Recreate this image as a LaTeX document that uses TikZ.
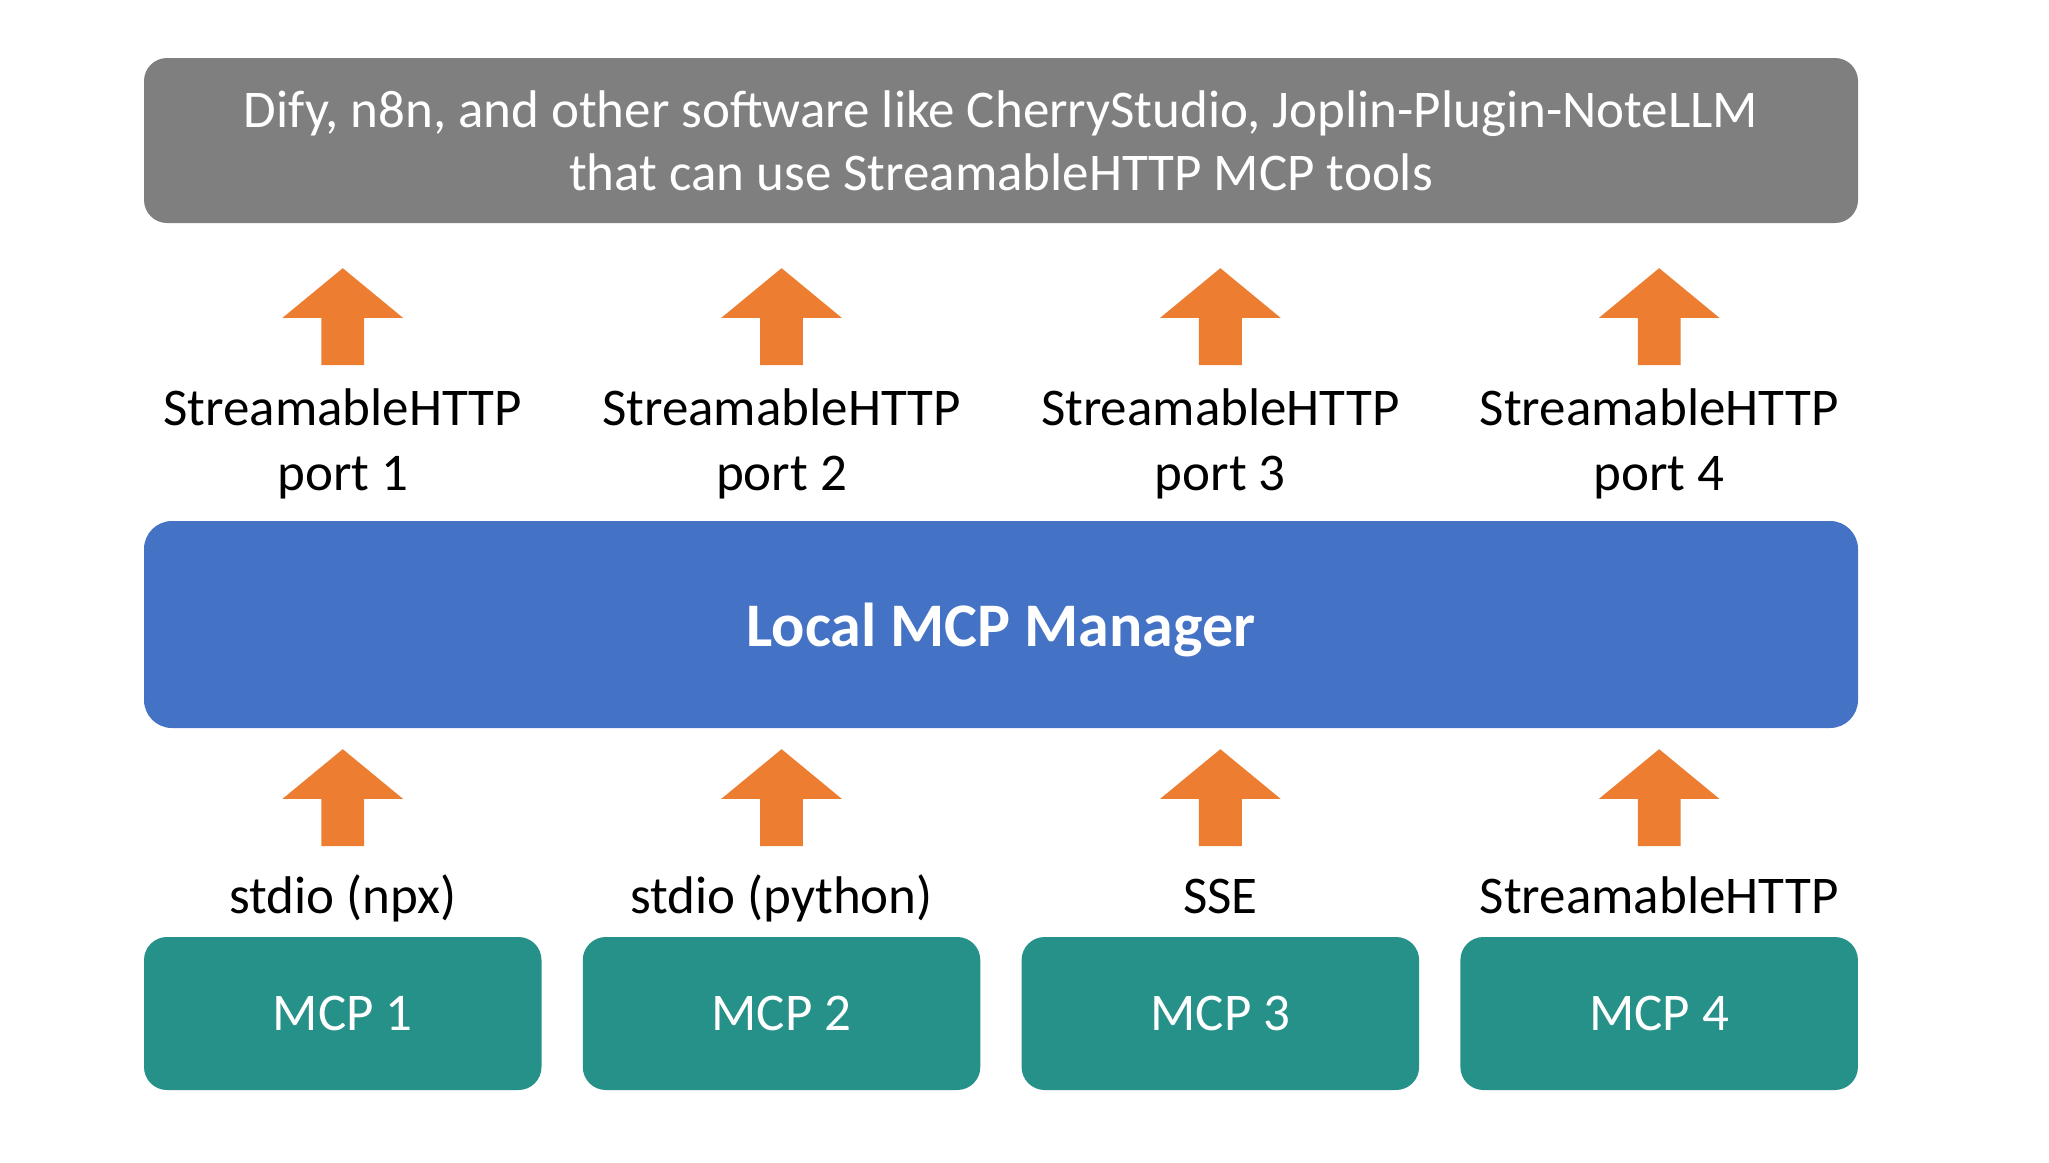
\documentclass[tikz,border=0pt]{standalone}
\usepackage{fontspec}
\setmainfont{Carlito}
\usetikzlibrary{positioning, shapes.arrows}

\definecolor{clientgray}{HTML}{7F7F7F}
\definecolor{managerblue}{HTML}{4472C4}
\definecolor{flowarrow}{HTML}{ED7D31}
\definecolor{mcpteal}{RGB}{37,145,136}

\begin{document}
\begin{tikzpicture}[
        x=0.5pt, y=-0.5pt,
        node distance=20.25pt,
        client/.style={rectangle, fill=clientgray, text=white, rounded corners=11.5pt,
                        minimum width=857pt, minimum height=82.5pt, align=center,
                        font=\fontsize{26.5}{31.5}\selectfont},
        manager/.style={rectangle, fill=managerblue, text=white, rounded corners=14pt,
                        minimum width=857pt, minimum height=103.5pt, text depth=0pt,
                        font=\fontsize{31}{36}\selectfont\bfseries},
        mcp/.style={rectangle, fill=mcpteal, text=white, rounded corners=11.5pt,
                        minimum width=198.75pt, minimum height=76.5pt,
                        font=\fontsize{26.5}{31.5}\selectfont},
        proto/.style={align=center, text=black, inner sep=0pt,
                        font=\fontsize{26.5}{32.5}\selectfont},
        uparrow/.style={single arrow, shape border rotate=90, fill=flowarrow, draw=none,
                        inner xsep=10.5pt, inner ysep=10.5pt, minimum width=60pt, minimum height=48.5pt,
                        single arrow head extend=19.5pt, single arrow tip angle=101,
                        single arrow head indent=0pt}
    ]
        \useasboundingbox (0,0) rectangle (2049,1162);

        \coordinate (portrow) at (0,444);
        \coordinate (toparrows) at (0,325.5);
        \coordinate (protorow) at (0,913);
        \coordinate (lowarrows) at (0,806.5);

        \node[client] (apps) at (1001,140.5) {Dify, n8n, and other software like CherryStudio, Joplin-Plugin-NoteLLM\\that can use StreamableHTTP MCP tools};
        \node[manager] (manager) at (1001,624.5) {Local MCP Manager};

        \node[mcp] (mcp1) at (342.75,1013.5) {MCP 1};
        \node[mcp, right=of mcp1] (mcp2) {MCP 2};
        \node[mcp, right=of mcp2] (mcp3) {MCP 3};
        \node[mcp, right=of mcp3] (mcp4) {MCP 4};

        % transports into the manager
        \node[proto, anchor=base] (stdionpx) at (mcp1 |- protorow) {stdio (npx)};
        \node[proto, anchor=base] (stdiopy) at (mcp2 |- protorow) {stdio (python)};
        \node[proto, anchor=base] (sse) at (mcp3 |- protorow) {SSE};
        \node[proto, anchor=base] (httpin) at (mcp4 |- protorow) {StreamableHTTP};

        \node[uparrow] (inarrow1) at (mcp1 |- lowarrows) {};
        \node[uparrow] (inarrow2) at (mcp2 |- lowarrows) {};
        \node[uparrow] (inarrow3) at (mcp3 |- lowarrows) {};
        \node[uparrow] (inarrow4) at (mcp4 |- lowarrows) {};

        % ports out of the manager
        \node[proto] (port1) at (mcp1 |- portrow) {StreamableHTTP\\port 1};
        \node[proto] (port2) at (mcp2 |- portrow) {StreamableHTTP\\port 2};
        \node[proto] (port3) at (mcp3 |- portrow) {StreamableHTTP\\port 3};
        \node[proto] (port4) at (mcp4 |- portrow) {StreamableHTTP\\port 4};

        \node[uparrow] (outarrow1) at (mcp1 |- toparrows) {};
        \node[uparrow] (outarrow2) at (mcp2 |- toparrows) {};
        \node[uparrow] (outarrow3) at (mcp3 |- toparrows) {};
        \node[uparrow] (outarrow4) at (mcp4 |- toparrows) {};
    \end{tikzpicture}
\end{document}
